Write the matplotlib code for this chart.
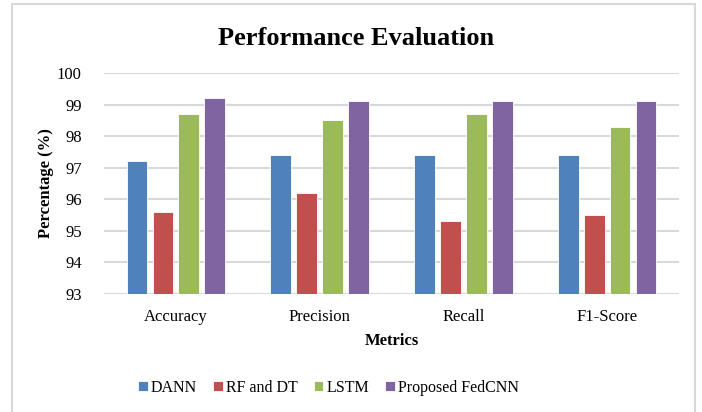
import matplotlib.pyplot as plt
import matplotlib.patches as mpatches
import numpy as np

plt.rcParams['font.family'] = ['Liberation Serif', 'DejaVu Serif']

# Data
metrics = ["Accuracy", "Precision", "Recall", "F1-Score"]
models = ["DANN", "RF and DT", "LSTM", "Proposed FedCNN"]
dann = [97.2, 97.4, 97.4, 97.4]
rf_dt = [95.6, 96.2, 95.3, 95.5]
lstm = [98.7, 98.5, 98.7, 98.3]
fedcnn = [99.2, 99.1, 99.1, 99.1]
colors = ['#4F81BD', '#C0504D', '#9BBB59', '#8064A2']

series = [dann, rf_dt, lstm, fedcnn]
x = np.arange(len(metrics))
step = 0.18
width = 0.145

fig = plt.figure(figsize=(7.02, 4.12), dpi=100)
ax = fig.add_axes([104 / 702, 1 - 294 / 412, (679 - 104) / 702, (294 - 73) / 412])

# outer chart border
fig.patches.append(mpatches.Rectangle((12 / 702, -0.05), (695 - 12) / 702, 1.05 - 4 / 412,
                                      transform=fig.transFigure, fill=False,
                                      edgecolor='#D9D9D9', linewidth=1.5))

for i, (vals, name) in enumerate(zip(series, models)):
    ax.bar(x + (i - 1.5) * step, np.array(vals) - 93, width, bottom=93, color=colors[i],
           edgecolor='white', linewidth=0.6, label=name, zorder=3)

ax.set_ylim(93, 100)
ax.set_xlim(-0.5, 3.5)
ax.set_yticks(range(93, 101))
ax.set_xticks(x)
ax.set_xticklabels(metrics, fontsize=12)
ax.tick_params(axis='y', labelsize=12, length=0, pad=16)
ax.tick_params(axis='x', length=0, pad=11)
ax.grid(axis='y', color='#D9D9D9', linewidth=1.5, zorder=0)
for s in ax.spines.values():
    s.set_visible(False)

ax.set_title("Performance Evaluation", fontsize=19, fontweight='bold', pad=20, x=0.438)
ax.set_xlabel("Metrics", fontsize=12, fontweight='bold')
ax.set_ylabel("Percentage (%)", fontsize=12, fontweight='bold')
ax.xaxis.set_label_coords(0.5, -0.175)
ax.yaxis.set_label_coords(-0.087, 0.5)

ax.legend(loc='center', bbox_to_anchor=(0.468, 1 - 388 / 412), bbox_transform=fig.transFigure,
          ncol=4, frameon=False, fontsize=11.5, handlelength=0.6, handleheight=0.6,
          handletextpad=0.2, columnspacing=1.0)

fig.savefig("out.png", dpi=100)
